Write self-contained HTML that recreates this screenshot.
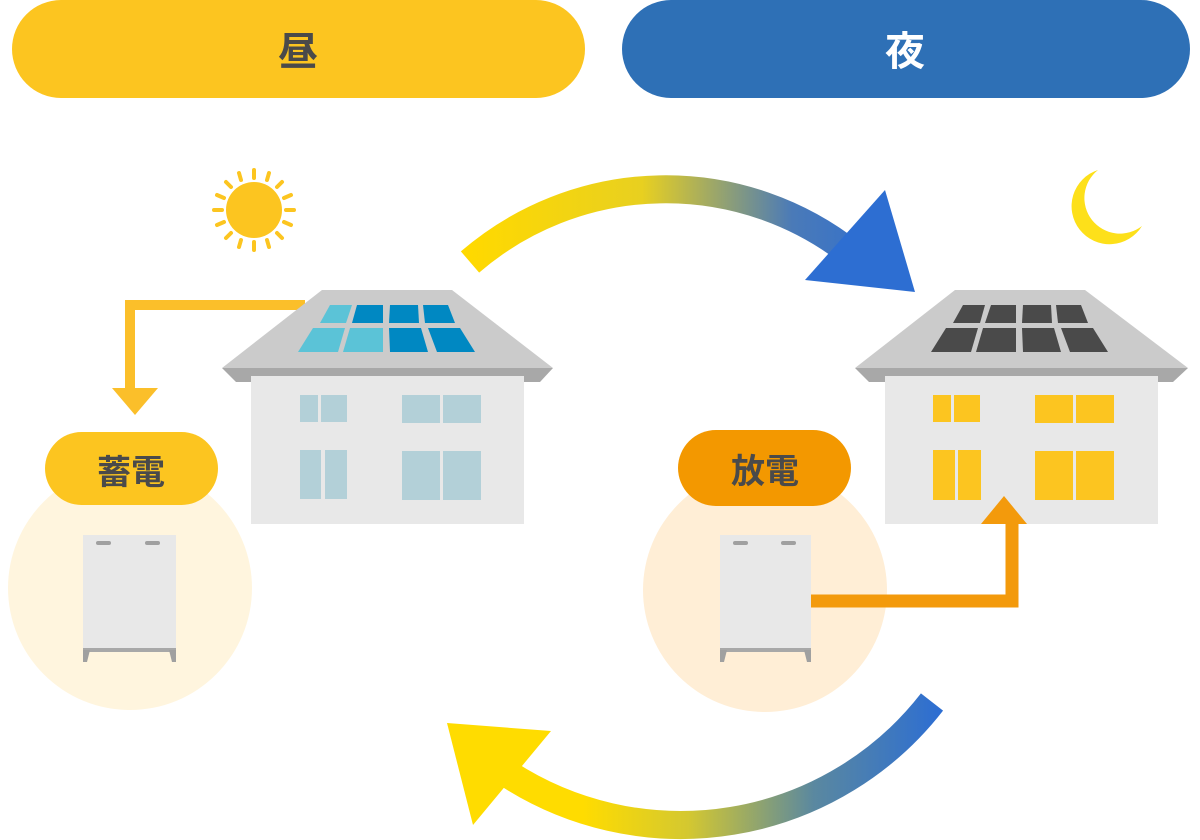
<!DOCTYPE html>
<html><head><meta charset="utf-8"><style>
html,body{margin:0;padding:0;background:#fff;}
svg{display:block;}
text{font-family:"Liberation Sans","Noto Sans CJK JP",sans-serif;font-weight:bold;}
</style></head><body>
<svg width="1200" height="840" viewBox="0 0 1200 840" xmlns="http://www.w3.org/2000/svg">
<defs>
<linearGradient id="gt" x1="470" y1="0" x2="900" y2="0" gradientUnits="userSpaceOnUse">
<stop offset="0" stop-color="#ffd900"/><stop offset="0.4" stop-color="#e8d020"/><stop offset="0.75" stop-color="#4a7ab8"/><stop offset="1" stop-color="#2d6ed2"/></linearGradient>
<linearGradient id="gb" x1="940" y1="0" x2="520" y2="0" gradientUnits="userSpaceOnUse">
<stop offset="0" stop-color="#2d6ed2"/><stop offset="0.3" stop-color="#5a88a0"/><stop offset="0.6" stop-color="#d4c830"/><stop offset="0.85" stop-color="#ffdc00"/><stop offset="1" stop-color="#ffdc00"/></linearGradient>
</defs>
<rect x="12" y="0" width="573" height="98" rx="49" fill="#fcc520"/>
<text x="298" y="65" font-size="40" fill="#4a4a4a" text-anchor="middle">昼</text>
<rect x="622" y="0" width="568" height="98" rx="49" fill="#2e70b6"/>
<text x="905" y="65" font-size="40" fill="#fff" text-anchor="middle">夜</text>

<path d="M470 262 A300 300 0 0 1 852 254" fill="none" stroke="url(#gt)" stroke-width="28"/>
<polygon points="805,280 915,292 885,190" fill="#2d6ed2"/>
<path d="M932 702 A318 318 0 0 1 505 772" fill="none" stroke="url(#gb)" stroke-width="28"/>
<polygon points="447,723 551,731 473,825" fill="#ffdc00"/>

<g stroke="#fcc520" stroke-width="4" stroke-linecap="round">
<line x1="254" y1="170" x2="254" y2="178"/><line x1="254" y1="242" x2="254" y2="250"/>
<line x1="214" y1="210" x2="222" y2="210"/><line x1="286" y1="210" x2="294" y2="210"/>
<line x1="226" y1="182" x2="231" y2="187"/><line x1="277" y1="233" x2="282" y2="238"/>
<line x1="282" y1="182" x2="277" y2="187"/><line x1="231" y1="233" x2="226" y2="238"/>
<line x1="239" y1="173" x2="241" y2="180"/><line x1="267" y1="240" x2="269" y2="247"/>
<line x1="269" y1="173" x2="267" y2="180"/><line x1="241" y1="240" x2="239" y2="247"/>
<line x1="217" y1="195" x2="224" y2="198"/><line x1="284" y1="222" x2="291" y2="225"/>
<line x1="291" y1="195" x2="284" y2="198"/><line x1="224" y1="222" x2="217" y2="225"/>
</g>
<circle cx="254" cy="210" r="28" fill="#fcc520"/>
<path d="M1098 170 A38 38 0 1 0 1142 226 A30 30 0 1 1 1098 170 Z" fill="#fde01a"/>

<path d="M305 305 H130 V392" fill="none" stroke="#fbbf2a" stroke-width="10"/>
<polygon points="112,388 158,388 135,415" fill="#fbbf2a"/>

<polygon points="322,290 452,290 553,368 222,368" fill="#cbcbcb"/>
<polygon points="222,368 553,368 540,382 236,382" fill="#a8a8a8"/>
<rect x="251" y="376" width="273" height="148" fill="#e8e8e8"/>
<g fill="#5bc3d7">
<polygon points="330,305 352,305 346,323 320,323"/>
<polygon points="313,328 345,328 338,352 298,352"/>
<polygon points="350,328 383,328 383,352 343,352"/>
</g>
<g fill="#0088c2">
<polygon points="357,305 383,305 383,323 352,323"/>
<polygon points="390,305 418,305 419,323 389,323"/>
<polygon points="423,305 448,305 455,323 425,323"/>
<polygon points="389,328 421,328 428,352 390,352"/>
<polygon points="428,328 460,328 475,352 437,352"/>
</g>
<g fill="#b3d0d8">
<rect x="300" y="395" width="18" height="27"/><rect x="321" y="395" width="26" height="27"/>
<rect x="402" y="395" width="38" height="28"/><rect x="443" y="395" width="38" height="28"/>
<rect x="300" y="450" width="21" height="49"/><rect x="325" y="450" width="22" height="49"/>
<rect x="402" y="451" width="38" height="49"/><rect x="443" y="451" width="38" height="49"/>
</g>

<circle cx="130" cy="588" r="122" fill="#fff5de"/>
<rect x="45" y="432" width="173" height="73" rx="36.5" fill="#fcc520"/>
<text x="131" y="484" font-size="34" fill="#4a4a4a" text-anchor="middle">蓄電</text>
<rect x="83" y="535" width="93" height="115" fill="#e8e8e8"/>
<rect x="96" y="541" width="15" height="4" rx="2" fill="#a0a0a0"/><rect x="145" y="541" width="15" height="4" rx="2" fill="#a0a0a0"/>
<rect x="83" y="648" width="93" height="4" fill="#a8a8a8"/>
<polygon points="83,650 90,650 87,662 83,662" fill="#a0a0a0"/><polygon points="169,650 176,650 176,662 172,662" fill="#a0a0a0"/>

<polygon points="955,290 1085,290 1188,368 855,368" fill="#cbcbcb"/>
<polygon points="855,368 1188,368 1173,382 869,382" fill="#a8a8a8"/>
<rect x="885" y="376" width="273" height="148" fill="#e8e8e8"/>
<g fill="#4a4a4a">
<polygon points="963,305 985,305 980,323 953,323"/>
<polygon points="991,305 1016,305 1016,323 985,323"/>
<polygon points="1023,305 1051,305 1052,323 1022,323"/>
<polygon points="1056,305 1081,305 1088,323 1058,323"/>
<polygon points="946,328 978,328 971,352 931,352"/>
<polygon points="983,328 1016,328 1016,352 976,352"/>
<polygon points="1022,328 1054,328 1061,352 1023,352"/>
<polygon points="1061,328 1093,328 1108,352 1070,352"/>
</g>
<g fill="#fcc520">
<rect x="933" y="395" width="18" height="27"/><rect x="954" y="395" width="26" height="27"/>
<rect x="1035" y="395" width="38" height="28"/><rect x="1076" y="395" width="38" height="28"/>
<rect x="933" y="450" width="22" height="50"/><rect x="958" y="450" width="23" height="50"/>
<rect x="1035" y="451" width="38" height="49"/><rect x="1076" y="451" width="38" height="49"/>
</g>

<circle cx="765" cy="590" r="122" fill="#ffeed6"/>
<rect x="678" y="430" width="173" height="76" rx="38" fill="#f39800"/>
<text x="765" y="483" font-size="34" fill="#4a4a4a" text-anchor="middle">放電</text>
<rect x="720" y="535" width="91" height="115" fill="#e8e8e8"/>
<rect x="733" y="541" width="15" height="4" rx="2" fill="#a0a0a0"/><rect x="781" y="541" width="15" height="4" rx="2" fill="#a0a0a0"/>
<rect x="720" y="648" width="91" height="4" fill="#a8a8a8"/>
<polygon points="720,650 727,650 724,662 720,662" fill="#a0a0a0"/><polygon points="804,650 811,650 811,662 807,662" fill="#a0a0a0"/>
<path d="M811 601 H1012 V522" fill="none" stroke="#f39a0c" stroke-width="13"/>
<polygon points="981,524 1027,524 1004,496" fill="#f39a0c"/>
</svg>
</body></html>
